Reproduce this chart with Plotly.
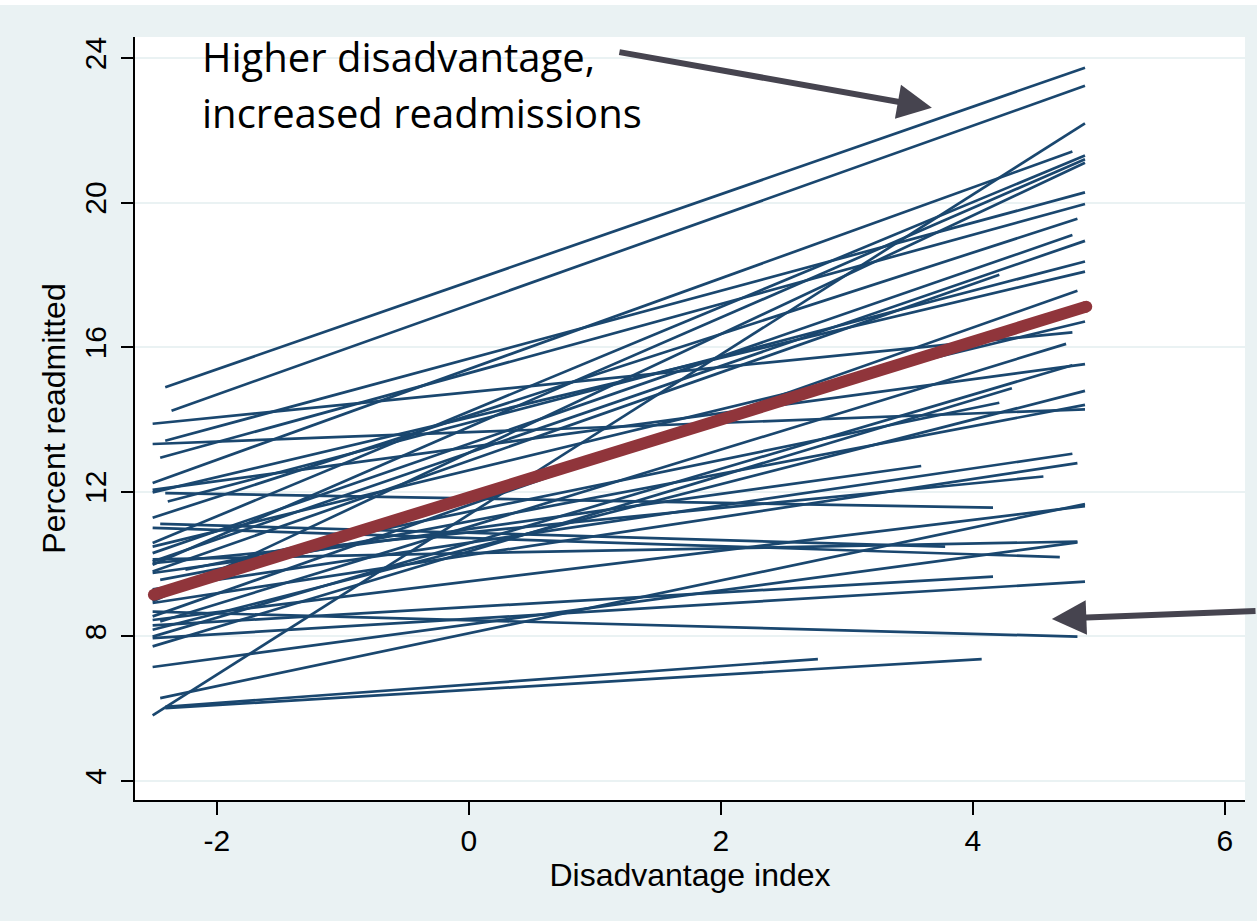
import plotly.graph_objects as go

# Individual regression lines (start x, start y, end x, end y)
x_start = [-2.41, -2.36, -2.51, -2.51, -2.51, -2.51, -2.51, -2.41, -2.45, -2.51,
           -2.51, -2.51, -2.51, -2.39, -2.51, -2.51, -2.51, -2.51, -2.45, -2.51,
           -2.51, -2.51, -2.25, -2.51, -2.45, -2.51, -2.51, -2.51, -2.51, -2.51,
           -2.41, -2.45, -2.51, -2.51, -2.51, -2.51, -2.45, -2.51, -2.51, -2.51,
           -2.41, -2.41]
y_start = [14.89, 14.24, 5.81, 12.24, 10.58, 9.98, 8.96, 13.41, 12.94, 11.28,
           10.30, 10.07, 9.79, 11.73, 11.98, 8.55, 10.48, 13.88, 8.41, 12.05,
           7.99, 7.72, 9.84, 8.18, 9.56, 13.32, 9.30, 8.92, 10.02, 9.75,
           11.96, 6.29, 8.45, 10.13, 7.15, 11.00, 11.11, 8.30, 7.95, 8.68,
           6.05, 6.01]
x_end = [4.89, 4.89, 4.89, 4.79, 4.89, 4.89, 4.89, 4.89, 4.89, 4.83,
         4.79, 4.89, 4.21, 4.89, 4.89, 4.83, 4.89, 4.79, 4.74, 4.89,
         4.79, 4.31, 4.21, 4.89, 4.89, 4.89, 4.79, 4.83, 4.56, 3.59,
         4.16, 4.89, 4.89, 4.83, 4.83, 4.69, 3.78, 4.16, 4.89, 4.83,
         2.77, 4.07]
y_end = [23.73, 23.23, 22.19, 21.41, 21.30, 21.20, 21.10, 20.28, 19.96, 19.55,
         19.10, 18.94, 18.00, 18.37, 18.09, 17.56, 16.71, 16.41, 16.09, 15.53,
         15.50, 14.86, 14.46, 14.79, 14.40, 14.28, 13.05, 12.79, 12.42, 12.71,
         11.56, 11.66, 11.60, 10.62, 10.60, 10.19, 10.48, 9.65, 9.51, 7.99,
         7.37, 7.37]

# Overall (average) line
avg_x = [-2.5, 4.9]
avg_y = [9.15, 17.12]

x_ticks = [-2, 0, 2, 4, 6]
x_tick_labels = ["-2", "0", "2", "4", "6"]
y_ticks = [4, 8, 12, 16, 20, 24]

NAVY = "#1a476f"
MAROON = "#90353b"
BG = "#eaf2f3"
ARROW = "#46444f"

lx, ly = [], []
for a, b, c, d in zip(x_start, y_start, x_end, y_end):
    lx += [a, c, None]
    ly += [b, d, None]

fig = go.Figure()
fig.add_trace(go.Scatter(x=lx, y=ly, mode="lines",
                         line=dict(color=NAVY, width=2.7),
                         hoverinfo="skip", showlegend=False))
fig.add_trace(go.Scatter(x=avg_x, y=avg_y, mode="lines+markers",
                         line=dict(color=MAROON, width=12),
                         marker=dict(color=MAROON, size=12),
                         hoverinfo="skip", showlegend=False))

W, H = 1257, 921
ml, mr, mt, mb = 135, 12, 37, 121
pw, ph = W - ml - mr, H - mt - mb

def px_to_paper(px, py):
    return (px - ml) / pw, (H - mb - py) / ph

# white strip at the very top of the image
x0p, y0p = px_to_paper(0, 0)
x1p, y1p = px_to_paper(W, 5)
fig.add_shape(type="rect", xref="paper", yref="paper", x0=x0p, x1=x1p, y0=y1p, y1=y0p,
              fillcolor="white", line=dict(width=0), layer="below")

# Annotation text
tx, ty1 = px_to_paper(200, 56)
_, ty2 = px_to_paper(200, 112)
for txt, yy in [("Higher disadvantage,", ty1), ("increased readmissions", ty2)]:
    fig.add_annotation(xref="paper", yref="paper", x=tx, y=yy, text=txt,
                       showarrow=False, xanchor="left", yanchor="middle",
                       font=dict(family="Open Sans", size=40, color="black"))

# Arrows
fig.add_annotation(x=3.675, y=22.62, xref="x", yref="y", text="",
                   showarrow=True, arrowhead=2, arrowsize=1.15, arrowwidth=6,
                   arrowcolor=ARROW, ax=-314, ay=-56, standoff=0)
fig.add_annotation(x=4.627, y=8.48, xref="x", yref="y", text="",
                   showarrow=True, arrowhead=2, arrowsize=1.15, arrowwidth=6,
                   arrowcolor=ARROW, ax=230, ay=-8, standoff=0)

fig.update_layout(
    width=W, height=H,
    margin=dict(l=ml, r=mr, t=mt, b=mb),
    paper_bgcolor=BG, plot_bgcolor="white",
    font=dict(family="Liberation Sans, Arial, sans-serif", color="black"),
    xaxis=dict(range=[-2.65, 6.16], tickvals=x_ticks, ticktext=x_tick_labels,
               showgrid=False, zeroline=False,
               showline=True, linecolor="black", linewidth=1.6,
               ticks="outside", ticklen=13, tickwidth=1.6, tickcolor="black",
               tickfont=dict(size=30), ticklabelstandoff=0,
               title=dict(text="Disadvantage index", font=dict(size=32), standoff=0)),
    yaxis=dict(range=[3.47, 24.58], tickvals=y_ticks, showgrid=True, gridcolor=BG,
               gridwidth=2, zeroline=False,
               showline=True, linecolor="black", linewidth=1.6,
               ticks="outside", ticklen=12, tickwidth=1.6, tickcolor="black",
               tickangle=-90, tickfont=dict(size=30), ticklabelstandoff=3,
               title=dict(text="Percent readmitted", font=dict(size=32), standoff=4)),
)

fig.write_html("out.html")
